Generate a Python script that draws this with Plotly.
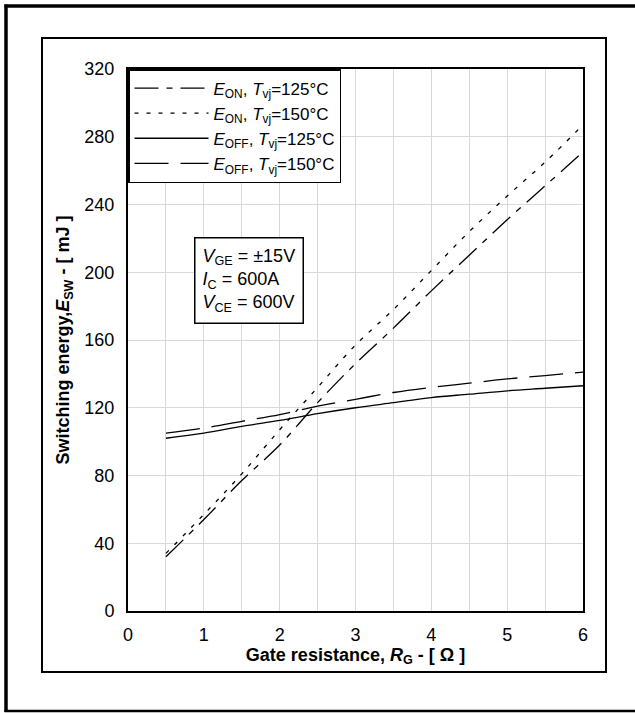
import plotly.graph_objects as go

rg = [0.5, 1, 1.5, 2, 2.5, 3, 3.5, 4, 4.5, 5, 5.5, 6]
eon_125 = [32, 54, 77, 98, 123, 146, 167, 189, 210, 231, 251, 271]
eon_150 = [34, 57, 81, 107, 132, 157, 178, 201, 224, 245, 265, 287]
eoff_125 = [102, 105, 109, 112.5, 116.5, 120, 123, 126, 128, 130, 131.5, 133]
eoff_150 = [105, 108, 112, 116, 121, 125, 129, 132, 134.5, 137, 139, 141]

names = [
    "<i>E</i><sub>ON</sub>, <i>T</i><sub>vj</sub>=125°C",
    "<i>E</i><sub>ON</sub>, <i>T</i><sub>vj</sub>=150°C",
    "<i>E</i><sub>OFF</sub>, <i>T</i><sub>vj</sub>=125°C",
    "<i>E</i><sub>OFF</sub>, <i>T</i><sub>vj</sub>=150°C",
]
series = [eon_125, eon_150, eoff_125, eoff_150]
dashes = ["24px,8px,6px,8px", "4px,8px", "solid", "34px,12px"]

FONT = "Liberation Sans, Arial, sans-serif"

fig = go.Figure()
for name, ys, d in zip(names, series, dashes):
    fig.add_trace(go.Scatter(
        x=rg, y=ys, mode="lines", name=name, line_shape="spline",
        line=dict(color="black", width=1.3, dash=d),
    ))

W, H = 635, 713
L, R, T, B = 128, 52, 69, 102
pw, ph = W - L - R, H - T - B

def px(xp):
    return (xp - L) / pw

def py(yp):
    return (H - B - yp) / ph

fig.update_layout(
    width=W, height=H,
    margin=dict(l=L, r=R, t=T, b=B),
    paper_bgcolor="white", plot_bgcolor="white",
    font=dict(family=FONT, size=18, color="black"),
    showlegend=True,
    legend=dict(
        x=0, y=1, xanchor="left", yanchor="top",
        bgcolor="white", bordercolor="black", borderwidth=1.5,
        font=dict(size=17, family=FONT), itemwidth=74,
        tracegroupgap=0,
    ),
    xaxis=dict(
        range=[0, 6], dtick=1,
        showline=True, linecolor="black", linewidth=2, mirror=True,
        ticks="", ticklabelstandoff=6,
        title=dict(text="<b>Gate resistance, <i>R</i><sub>G</sub> - [ Ω ]</b>",
                   font=dict(size=18), standoff=2),
        zeroline=False,
    ),
    yaxis=dict(
        range=[0, 320], dtick=40, showgrid=True, gridcolor="#d9d9d9", gridwidth=1,
        showline=True, linecolor="black", linewidth=2, mirror=True,
        ticks="", ticklabelstandoff=8,
        title=dict(text="<b>Switching energy,<i>E</i><sub>SW</sub> - [ mJ ]</b>",
                   font=dict(size=18), standoff=10),
        zeroline=False,
    ),
)

# grid every 0.5 on x
fig.update_xaxes(minor=dict(dtick=0.5, showgrid=True, gridcolor="#d9d9d9", gridwidth=1),
                 showgrid=True, gridcolor="#d9d9d9", gridwidth=1)

# inner frame
fig.add_shape(type="rect", xref="paper", yref="paper",
              x0=px(42), x1=px(606), y0=py(672), y1=py(38),
              line=dict(color="black", width=2), layer="above")
# outer frame (left, top, bottom)
fig.add_shape(type="line", xref="paper", yref="paper",
              x0=px(6), x1=px(6), y0=py(712), y1=py(4.5),
              line=dict(color="black", width=3.5), layer="above")
fig.add_shape(type="line", xref="paper", yref="paper",
              x0=px(4.5), x1=px(635), y0=py(6), y1=py(6),
              line=dict(color="black", width=3.5), layer="above")
fig.add_shape(type="line", xref="paper", yref="paper",
              x0=px(4.5), x1=px(635), y0=py(711), y1=py(711),
              line=dict(color="black", width=2.5), layer="above")

fig.add_annotation(
    xref="paper", yref="paper", x=px(194), y=py(237),
    xanchor="left", yanchor="top", align="left", showarrow=False,
    text="<i>V</i><sub>GE</sub> = ±15V<br><i>I</i><sub>C</sub> = 600A<br><i>V</i><sub>CE</sub> = 600V",
    font=dict(size=18, family=FONT), bgcolor="white",
    bordercolor="black", borderwidth=1.5, borderpad=7,
)

fig.write_html("out.html")
